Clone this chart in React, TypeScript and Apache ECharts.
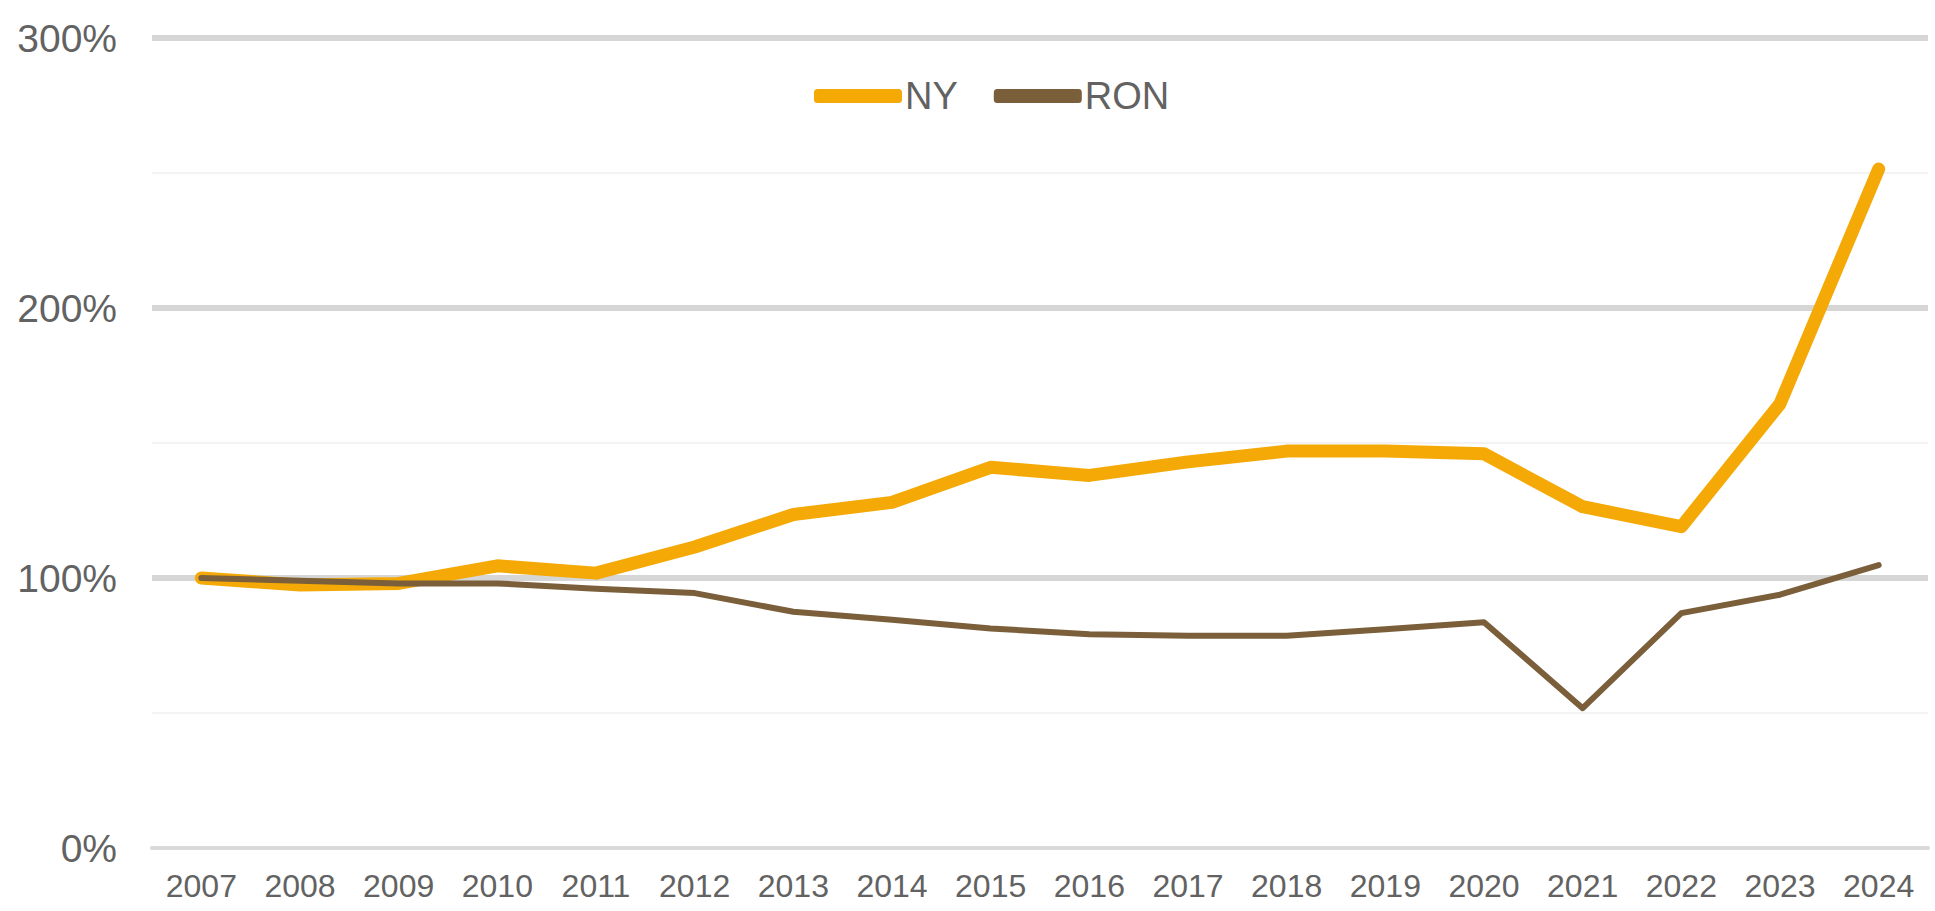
import React, { useEffect, useRef } from "react";
import * as echarts from "echarts";

const years = ["2007","2008","2009","2010","2011","2012","2013","2014","2015","2016","2017","2018","2019","2020","2021","2022","2023","2024"];
const nyValues = [100, 97.4, 98, 104.5, 101.8, 111.5, 123.5, 128, 141, 138, 143, 147, 147, 146, 126.4, 119, 164.5, 251.5];
const ronValues = [100, 99, 98, 98, 96, 94.4, 87.5, 84.5, 81.3, 79.2, 78.6, 78.6, 81, 83.6, 51.8, 87, 93.8, 104.8];
const seriesNames = ["NY", "RON"];
const yTicks = [0, 100, 200, 300];

const NY_COLOR = "#F4A906";
const RON_COLOR = "#7A5F3A";
const TEXT = "#626262";
const FONT = "Liberation Sans, Arial, sans-serif";

export default function App() {
  const ref = useRef<HTMLDivElement>(null);
  useEffect(() => {
    document.body.style.margin = "0";
    const chart = echarts.init(ref.current!, undefined, { renderer: "svg" });
    chart.setOption({
      animation: false,
      backgroundColor: "#ffffff",
      grid: { left: 152, right: 7, top: 38, bottom: 63, containLabel: false },
      legend: {
        left: 814,
        top: 77,
        padding: 0,
        itemWidth: 88,
        itemHeight: 14,
        itemGap: 36,
        icon: "roundRect",
        textStyle: { fontFamily: FONT, fontSize: 38, color: TEXT, padding: [0, 0, 0, -2] },
        data: seriesNames,
      },
      xAxis: {
        type: "category",
        data: years,
        boundaryGap: true,
        axisLine: { show: true, lineStyle: { color: "#DADADA", width: 4 } },
        axisTick: { show: false },
        axisLabel: { fontFamily: FONT, fontSize: 32, color: TEXT, margin: 22 },
      },
      yAxis: {
        type: "value",
        min: yTicks[0],
        max: yTicks[yTicks.length - 1],
        interval: 100,
        axisLine: { show: false },
        axisTick: { show: false },
        axisLabel: {
          fontFamily: FONT,
          fontSize: 39,
          color: TEXT,
          margin: 35,
          formatter: (v: number) => `${v}%`,
        },
        splitLine: { show: true, showMinLine: false, lineStyle: { color: "#D6D6D6", width: 6 } },
        minorTick: { show: false, splitNumber: 2 },
        minorSplitLine: { show: true, lineStyle: { color: "#F3F3F3", width: 2 } },
      },
      series: [
        {
          name: seriesNames[0],
          type: "line",
          data: nyValues,
          symbol: "none",
          color: NY_COLOR,
          lineStyle: { color: NY_COLOR, width: 13, cap: "round", join: "round" },
          z: 2,
        },
        {
          name: seriesNames[1],
          type: "line",
          data: ronValues,
          symbol: "none",
          color: RON_COLOR,
          lineStyle: { color: RON_COLOR, width: 6, cap: "round", join: "round" },
          z: 3,
        },
      ],
    });
    return () => chart.dispose();
  }, []);
  return <div ref={ref} style={{ width: 1935, height: 911 }} />;
}
